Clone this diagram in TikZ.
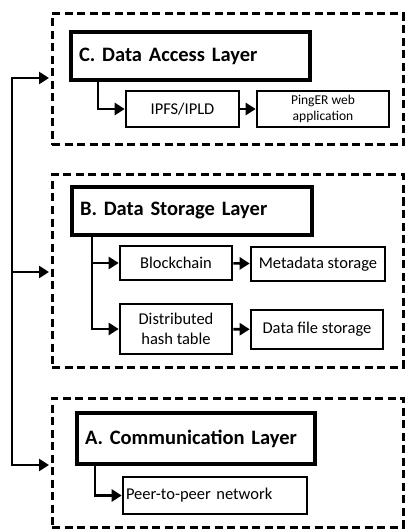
\documentclass[tikz,border=0pt]{standalone}
\usepackage{fontspec}
\setmainfont{Carlito}
\usetikzlibrary{arrows.meta}
\begin{document}
\begin{tikzpicture}[x=1pt,y=-1pt,
  layerbox/.style={draw,line width=3pt,dash pattern=on 8pt off 4.5pt,inner sep=0pt},
  titlebox/.style={draw,line width=3.5pt,fill=white,inner sep=0pt,font=\fontsize{20.5}{24}\selectfont\bfseries,text width=#1-16pt,align=left},
  itembox/.style={draw,line width=2.6pt,fill=white,inner sep=0pt,font=\fontsize{16.5}{20.5}\selectfont,align=center},
  conn/.style={line width=2.6pt},
  arr/.style={conn,-{Triangle[length=10pt,width=12pt]}}]
\useasboundingbox (0,0) rectangle (405,529);
% layers
\node[layerbox,minimum width=351pt,minimum height=131pt] (dC) at (227.5,79.5) {};
\node[layerbox,minimum width=351pt,minimum height=192pt] (dB) at (227.5,271) {};
\node[layerbox,minimum width=351pt,minimum height=129pt] (dA) at (227.5,462.5) {};
% C
\node[titlebox=239pt,minimum width=239pt,minimum height=48pt] (tC) at (190.5,56) {C. Data Access Layer};
\node[itembox,minimum width=113pt,minimum height=36pt] (ipfs) at (182.5,109) {IPFS/IPLD};
\node[itembox,minimum width=132pt,minimum height=36pt,font=\fontsize{13.5}{16.5}\selectfont] (ping) at (323,109) {PingER web\\application};
% B
\node[titlebox=240pt,minimum width=240pt,minimum height=48pt] (tB) at (192,211) {B. Data Storage Layer};
\node[itembox,minimum width=112pt,minimum height=34pt] (bc) at (176,263) {Blockchain};
\node[itembox,minimum width=134pt,minimum height=34pt] (meta) at (318,264) {Metadata storage};
\node[itembox,minimum width=112pt,minimum height=50pt] (dht) at (176,329) {Distributed\\hash table};
\node[itembox,minimum width=132pt,minimum height=39pt] (dfs) at (317,329.5) {Data file storage};
% A
\node[titlebox=238pt,minimum width=238pt,minimum height=51pt] (tA) at (196,438.5) {A. Communication Layer};
\node[itembox,minimum width=184pt,minimum height=37pt,text width=178pt,align=left] (p2p) at (215,495.5) {Peer-to-peer network};
% internal connectors
\coordinate (cC) at (98,0);
\coordinate (cB) at (92,0);
\coordinate (cA) at (95,0);
\draw[arr] (tC.south -| cC) |- (ipfs.west);
\draw[arr] (ipfs) -- (ping);
\draw[arr] (tB.south -| cB) |- (bc.west);
\draw[arr] (tB.south -| cB) |- (dht.west);
\draw[arr] (bc) -- (meta);
\draw[arr] (dht) -- (dfs);
\draw[arr] (tA.south -| cA) |- (p2p.west);
% bus
\coordinate (b1) at (12,78);
\coordinate (b2) at (12,272);
\coordinate (b3) at (12,465);
\draw[conn,line cap=rect] (b1) -- (b3);
\draw[arr] (b1) -- ([xshift=-1.5pt]b1 -| dC.west);
\draw[arr] (b2) -- ([xshift=-1.5pt]b2 -| dB.west);
\draw[arr] (b3) -- ([xshift=-1.5pt]b3 -| dA.west);
\end{tikzpicture}
\end{document}
